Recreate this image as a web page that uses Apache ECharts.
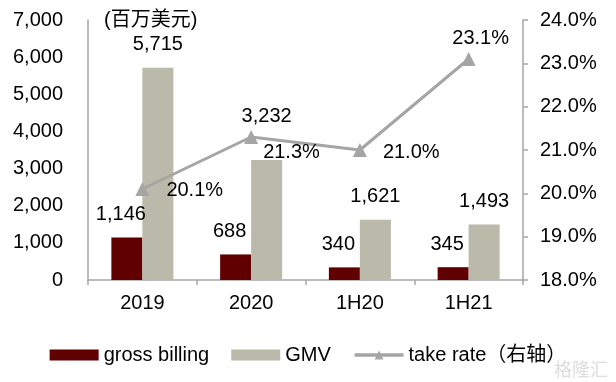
<!DOCTYPE html>
<html>
<head>
<meta charset="utf-8">
<script src="https://cdn.jsdelivr.net/npm/echarts@6/dist/echarts.min.js"></script>
<style>
html,body{margin:0;padding:0;background:#fff;}
#chart{width:616px;height:382px;}
</style>
</head>
<body>
<div id="chart"></div>
<script>
var categories = ['2019', '2020', '1H20', '1H21'];
var grossBilling = [1146, 688, 340, 345];
var gmv = [5715, 3232, 1621, 1493];
var takeRate = [20.1, 21.3, 21.0, 23.1];
var leftTicks = [0, 7000, 1000];
var rightTicks = [18, 24, 1];

var FONT = '"Liberation Sans", Arial, "Noto Sans CJK SC", sans-serif';
var TXT = '#000';
var AX = '#A6A6A6';

function fmt(v){ return Number(v).toLocaleString('en-US'); }

var gmvData = gmv.map(function(v, i){
  var d = {value: v};
  if (i === 1) d.label = {distance: 33};
  return d;
});

var linePos = [
  {position: 'right', distance: 17, offset: [0, 1]},
  {position: 'right', distance: 5, offset: [0, 15]},
  {position: 'right', distance: 16, offset: [0, 2]},
  {position: 'top', distance: 4, offset: [12, 0]}
];
var lineData = takeRate.map(function(v, i){
  return {value: v, label: linePos[i]};
});

var chart = echarts.init(document.getElementById('chart'));
chart.setOption({
  backgroundColor: '#fff',
  animation: false,
  textStyle: {fontFamily: FONT, color: TXT},
  title: {
    text: '(百万美元)', left: 99, top: 5,
    textStyle: {fontFamily: FONT, fontSize: 20, fontWeight: 'normal', color: TXT}
  },
  grid: {left: 88, right: 93, top: 20, bottom: 102, containLabel: false},
  legend: {
    left: 'center', top: 340,
    itemWidth: 49, itemHeight: 11, itemGap: 22,
    textStyle: {fontFamily: FONT, fontSize: 20, color: TXT},
    data: [
      {name: 'gross billing', icon: 'rect'},
      {name: 'GMV', icon: 'rect'},
      {name: 'take rate（右轴）', lineStyle: {width: 3.5}}
    ]
  },
  xAxis: {
    type: 'category', data: categories,
    axisLine: {lineStyle: {color: AX, width: 1.5}},
    axisTick: {show: true, length: 5, lineStyle: {color: AX, width: 1.5}},
    axisLabel: {fontFamily: FONT, fontSize: 20, color: TXT, margin: 13}
  },
  yAxis: [{
    type: 'value', min: leftTicks[0], max: leftTicks[1], interval: leftTicks[2],
    axisLine: {show: true, lineStyle: {color: AX, width: 1.5}},
    axisTick: {show: false},
    splitLine: {show: false},
    axisLabel: {fontFamily: FONT, fontSize: 20, color: TXT, margin: 25, formatter: fmt}
  }, {
    type: 'value', min: rightTicks[0], max: rightTicks[1], interval: rightTicks[2],
    position: 'right',
    axisLine: {show: true, lineStyle: {color: AX, width: 1.5}},
    axisTick: {show: true, length: 5, lineStyle: {color: AX, width: 1.5}},
    splitLine: {show: false},
    axisLabel: {fontFamily: FONT, fontSize: 20, color: TXT, margin: 17,
      formatter: function(v){ return v.toFixed(1) + '%'; }}
  }],
  series: [{
    name: 'gross billing', type: 'bar', data: grossBilling,
    barWidth: 31, barGap: '0%',
    itemStyle: {color: '#600000'},
    label: {show: true, position: 'top', distance: 13, offset: [-6, 0],
      fontFamily: FONT, fontSize: 20, color: TXT, formatter: function(p){ return fmt(p.value); }}
  }, {
    name: 'GMV', type: 'bar', data: gmvData,
    barWidth: 31,
    itemStyle: {color: '#BBB9A9'},
    label: {show: true, position: 'top', distance: 13,
      fontFamily: FONT, fontSize: 20, color: TXT, formatter: function(p){ return fmt(p.value); }}
  }, {
    name: 'take rate（右轴）', type: 'line', yAxisIndex: 1, data: lineData,
    symbol: 'triangle', symbolSize: 14,
    lineStyle: {color: '#A5A5A5', width: 3},
    itemStyle: {color: '#A5A5A5'},
    label: {show: true, fontFamily: FONT, fontSize: 20, color: TXT,
      formatter: function(p){ return p.value.toFixed(1) + '%'; }},
    z: 5
  }],
  graphic: [{
    type: 'text', right: 8, bottom: 4,
    style: {text: '格隆汇', font: '18px "Noto Sans CJK SC"', fill: '#dddddd'}
  }]
});
</script>
</body>
</html>
